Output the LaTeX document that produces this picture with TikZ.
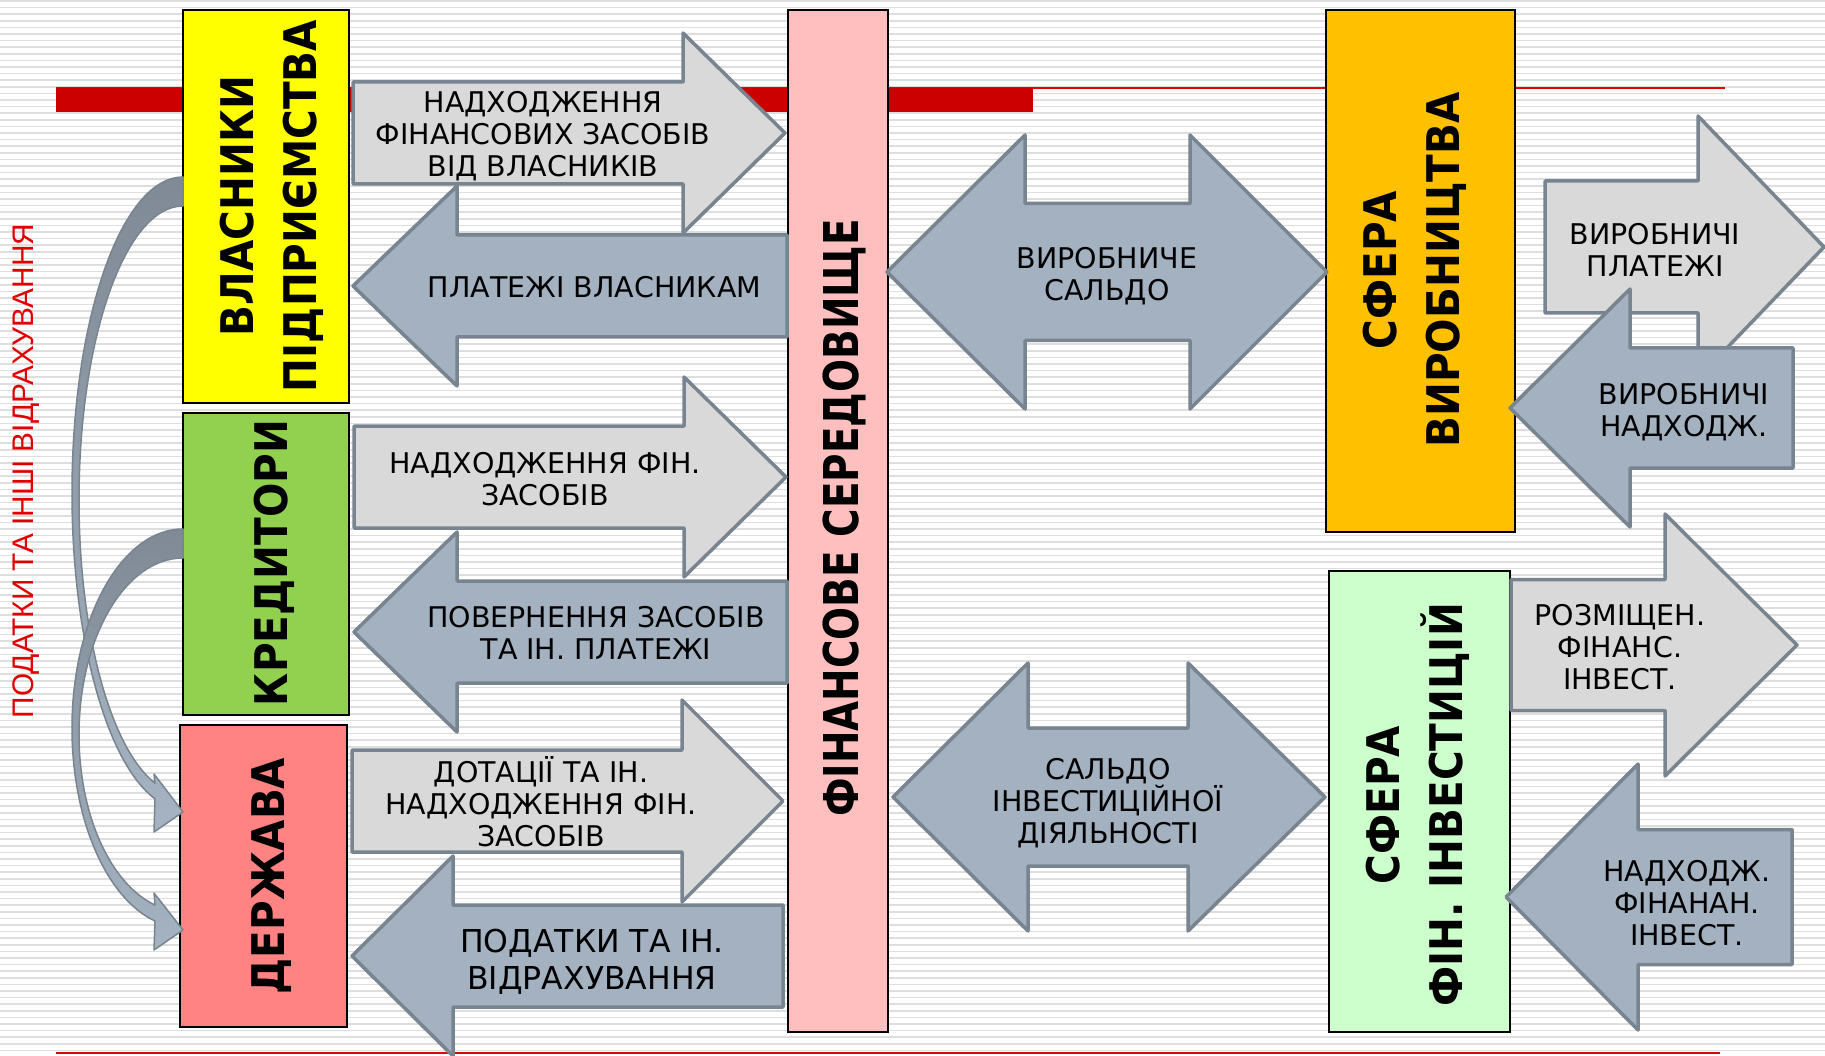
\documentclass[tikz,border=0pt]{standalone}
\usepackage{fontspec}
\setmainfont{DejaVu Sans}
\newfontfamily\lblfont{DejaVu Sans}
\newfontfamily\boxfont[FakeStretch=0.9]{DejaVu Sans}
\newfontfamily\midfont[FakeStretch=0.81]{DejaVu Sans}
\newfontfamily\redfont{Liberation Sans}
\definecolor{stripeC}{HTML}{DEDEDE}
\definecolor{barRed}{HTML}{CC0000}
\definecolor{lineRed}{HTML}{E00000}
\definecolor{txtRed}{HTML}{E00000}
\definecolor{cYellow}{HTML}{FFFF00}
\definecolor{cGreen}{HTML}{92D050}
\definecolor{cSalmon}{HTML}{FF8383}
\definecolor{cPink}{HTML}{FFBFBF}
\definecolor{cOrange}{HTML}{FFC000}
\definecolor{cLGreen}{HTML}{CCFFCC}
\definecolor{arrLight}{HTML}{D9D9D9}
\definecolor{arrBlue}{HTML}{A3B1C0}
\definecolor{arrEdge}{HTML}{78848F}
\definecolor{curvTop}{HTML}{808A96}
\definecolor{curvMid}{HTML}{87929F}
\definecolor{curvBot}{HTML}{A5B3C2}
\newcommand{\blkarrow}[7]{% style, tail x, base x, tip x, cy, shaft half, head half
  \draw[#1] (#2,{#5-#6}) -- (#3,{#5-#6}) -- (#3,{#5-#7}) -- (#4,#5) -- (#3,{#5+#7}) -- (#3,{#5+#6}) -- (#2,{#5+#6}) -- cycle;}
\newcommand{\dblarrow}[8]{% style, tipL, baseL, baseR, tipR, cy, shaft half, head half
  \draw[#1] (#2,#6) -- (#3,{#6-#8}) -- (#3,{#6-#7}) -- (#4,{#6-#7}) -- (#4,{#6-#8}) -- (#5,#6) -- (#4,{#6+#8}) -- (#4,{#6+#7}) -- (#3,{#6+#7}) -- (#3,{#6+#8}) -- cycle;}
\begin{document}
\begin{tikzpicture}[x=1pt,y=-1pt,
  stripe/.style={draw=stripeC, line width=1.6},
  boxst/.style={draw=black, line width=1.6, inner sep=0, outer sep=0},
  lightarr/.style={fill=arrLight, draw=arrEdge, line width=3.5, line join=round},
  bluearr/.style={fill=arrBlue, draw=arrEdge, line width=3.5, line join=round},
  curv/.style={top color=curvTop, middle color=curvMid, bottom color=curvBot, draw=arrEdge, line width=1.5, line join=round},
  lbl/.style={inner sep=0, align=center, font=\lblfont\fontsize{28.5}{32}\selectfont},
  bxl/.style={inner sep=0, align=center, rotate=90, font=\boxfont\bfseries\fontsize{45}{63}\selectfont},
  redt/.style={inner sep=0, text=txtRed, font=\redfont\fontsize{29.8}{32}\selectfont}]
\useasboundingbox (0,0) rectangle (1825,1056);
\fill[white] (0,0) rectangle (1825,1056);
% background stripes
\foreach \k in {0,...,159} \draw[stripe] (0,{1+\k*6.6}) -- (1825,{1+\k*6.6});
% red rules
\draw[lineRed, line width=1.5] (56,88) -- (1725,88);
\fill[barRed] (56,88) rectangle (1033,112);
\draw[lineRed, line width=1.5] (56,1053) -- (1720,1053);
% boxes
\node[boxst, fill=cYellow, minimum width=166, minimum height=393] (own) at (266,206.5) {};
\node[boxst, fill=cGreen, minimum width=166, minimum height=302] (cred) at (266,564) {};
\node[boxst, fill=cSalmon, minimum width=167, minimum height=302] (state) at (263.5,876) {};
\node[boxst, fill=cPink, minimum width=100, minimum height=1022] (fin) at (838,521) {};
\node[boxst, fill=cOrange, minimum width=189, minimum height=522] (prod) at (1420.5,271) {};
\node[boxst, fill=cLGreen, minimum width=181, minimum height=461] (inv) at (1419.5,801.5) {};
% left block arrows
\blkarrow{lightarr}{353}{683}{785}{133}{51}{100}
\blkarrow{bluearr}{787}{457}{353}{286}{51}{100}
\blkarrow{lightarr}{354}{684}{786}{477}{51}{100}
\blkarrow{bluearr}{787}{457}{354}{632}{51}{100}
\blkarrow{lightarr}{352}{682}{783}{801}{51}{101}
\blkarrow{bluearr}{783}{453}{352}{956}{51}{100}
% centre double arrows
\dblarrow{bluearr}{887}{1025}{1190}{1327}{272}{68.5}{137}
\dblarrow{bluearr}{893}{1028}{1188}{1325}{797}{69}{134}
% right block arrows
\blkarrow{lightarr}{1545}{1698}{1824}{247}{66}{131}
\blkarrow{bluearr}{1793}{1630}{1510}{408}{60}{119}
\blkarrow{lightarr}{1511}{1665}{1797}{645}{65.5}{131}
\blkarrow{bluearr}{1792}{1638}{1506}{897}{67.5}{133}
% curved arrows (owners -> state, creditors -> state)
\draw[curv] (183,177) .. controls (121.7,177) and (72,318.5) .. (72,493)
  .. controls (72,636.8) and (106.1,762.5) .. (155,798.8)
  -- (154,832) -- (183,812) -- (154,774) -- (155,783.2)
  .. controls (110.0,747.7) and (79,631.9) .. (79,500)
  .. controls (79,337.6) and (125.6,206) .. (183,206) -- cycle;
\draw[curv] (183,529) .. controls (121.7,529) and (72,618.2) .. (72,728.2)
  .. controls (72,818.9) and (106.1,898.1) .. (155,921.0)
  -- (154,950) -- (183,930) -- (154,893) -- (155,905.1)
  .. controls (110.0,883.7) and (79,814.1) .. (79,734.8)
  .. controls (79,637.2) and (125.6,558) .. (183,558) -- cycle;
% arrow labels
\node[lbl] (t1) at (543,136) {НАДХОДЖЕННЯ\\ФІНАНСОВИХ ЗАСОБІВ\\ВІД ВЛАСНИКІВ};
\node[lbl] (t2) at (594.5,287.5) {ПЛАТЕЖІ ВЛАСНИКАМ};
\node[lbl] (t3) at (545,479) {НАДХОДЖЕННЯ ФІН.\\ЗАСОБІВ};
\node[lbl] (t4) at (596,632.5) {ПОВЕРНЕННЯ ЗАСОБІВ\\ТА ІН. ПЛАТЕЖІ};
\node[lbl] (t5) at (541,801.5) {ДОТАЦІЇ ТА ІН.\\НАДХОДЖЕННЯ ФІН.\\ЗАСОБІВ};
\node[lbl, font=\lblfont\fontsize{31.5}{37}\selectfont] (t6) at (592,962) {ПОДАТКИ ТА ІН.\\ВІДРАХУВАННЯ};
\node[lbl] (t7) at (1107,276.5) {ВИРОБНИЧЕ\\САЛЬДО};
\node[lbl] (t8) at (1108,803) {САЛЬДО\\ІНВЕСТИЦІЙНОЇ\\ДІЯЛЬНОСТІ};
\node[lbl] (t9) at (1655,250) {ВИРОБНИЧІ\\ПЛАТЕЖІ};
\node[lbl] (t10) at (1684,412) {ВИРОБНИЧІ\\НАДХОДЖ.};
\node[lbl] (t11) at (1620,647) {РОЗМІЩЕН.\\ФІНАНС.\\ІНВЕСТ.};
\node[lbl] (t12) at (1687,903) {НАДХОДЖ.\\ФІНАНАН.\\ІНВЕСТ.};
% box labels
\node[bxl] (l1) at (272,206) {ВЛАСНИКИ\\ПІДПРИЄМСТВА};
\node[bxl] (l2) at (274.5,563) {КРЕДИТОРИ};
\node[bxl] (l3) at (272,876) {ДЕРЖАВА};
\node[bxl, font=\midfont\bfseries\fontsize{48}{60}\selectfont] (l4) at (844.5,518) {ФІНАНСОВЕ СЕРЕДОВИЩЕ};
\node[bxl] (l5) at (1414.5,270) {СФЕРА\\ВИРОБНИЦТВА};
\node[bxl] (l6) at (1418,805) {СФЕРА\\ФІН. ІНВЕСТИЦІЙ};
% side text
\node[redt, anchor=base, rotate=90] (rt) at (33,471) {ПОДАТКИ ТА ІНШІ ВІДРАХУВАННЯ};
\end{tikzpicture}
\end{document}
